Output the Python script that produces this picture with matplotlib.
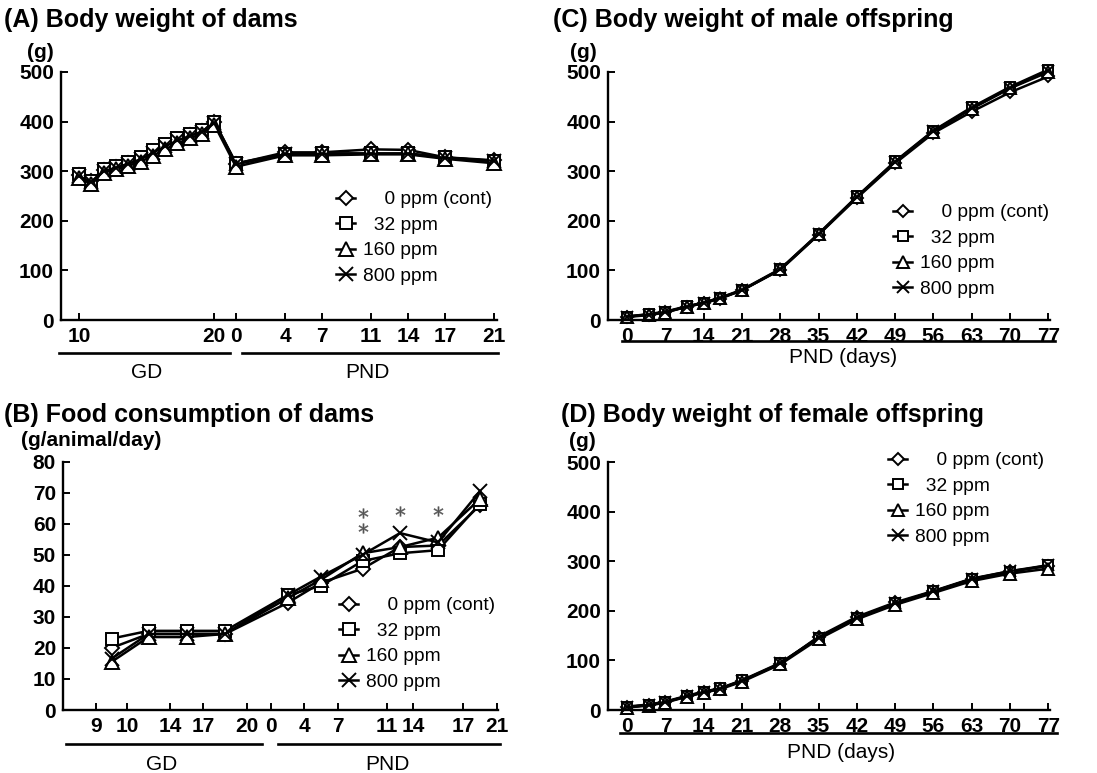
import matplotlib
matplotlib.use("Agg")
import matplotlib.pyplot as plt
from matplotlib.lines import Line2D

plt.rcParams['font.family'] = ['Liberation Sans', 'DejaVu Sans']

W, H = 1097, 773
fig = plt.figure(figsize=(W / 100, H / 100), dpi=100)

# ---------------- data ----------------
series_labels = ["    0 ppm (cont)", "  32 ppm", "160 ppm", "800 ppm"]

# (A) dam body weight: GD points (12 weighings from GD10 to GD20), PND days
a_gd_idx = list(range(12))
a_pnd_days = [0, 4, 7, 11, 14, 17, 21]
a_cont_gd = [292, 280, 302, 308, 316, 325, 338, 350, 363, 372, 382, 400]
a_32_gd = [295, 281, 304, 311, 318, 328, 342, 354, 366, 374, 384, 400]
a_160_gd = [287, 274, 297, 304, 311, 319, 331, 344, 356, 366, 376, 394]
a_800_gd = [290, 278, 300, 307, 315, 324, 337, 350, 362, 371, 380, 397]
a_cont_pnd = [315, 338, 338, 344, 343, 328, 322]
a_32_pnd = [316, 335, 336, 336, 336, 328, 320]
a_160_pnd = [309, 332, 332, 334, 334, 325, 316]
a_800_pnd = [314, 334, 335, 335, 335, 327, 321]
a_gd_ticklabels = ["10", "20"]
a_pnd_ticklabels = ["0", "4", "7", "11", "14", "17", "21"]

# (B) food consumption: intervals between labelled days
b_tick_labels = ["9", "10", "14", "17", "20", "0", "4", "7", "11", "14", "17", "21"]
b_intervals = [(0, 1), (1, 2), (2, 3), (3, 4), (5, 6), (6, 7), (7, 8), (8, 9), (9, 10), (10, 11)]
b_cont = [20, 24.5, 24.5, 24.5, 34.5, 41, 45.5, 52.5, 53, 66]
b_32 = [23, 25.5, 25.5, 25.5, 37, 40, 48, 50.5, 51.5, 66.5]
b_160 = [15.5, 23.5, 23.5, 24.5, 36, 42, 50.5, 52.5, 55.5, 68]
b_800 = [16.5, 24.5, 24.5, 24.5, 37, 43, 50, 57, 54, 70.5]
b_star_interval = [6, 6, 7, 8]
b_star_value = [58.5, 63.5, 64, 64]

# (C),(D) offspring body weight
off_days = [0, 4, 7, 11, 14, 17, 21, 28, 35, 42, 49, 56, 63, 70, 77]
c_cont = [7, 11, 16, 27, 34, 43, 60, 101, 172, 246, 316, 377, 420, 459, 491]
c_32 = [7, 12, 17, 28, 35, 45, 61, 103, 174, 249, 320, 382, 429, 470, 505]
c_160 = [6, 10, 15, 27, 34, 44, 60, 102, 173, 248, 318, 380, 426, 467, 500]
c_800 = [7, 11, 16, 27, 35, 44, 60, 102, 173, 248, 319, 381, 427, 468, 503]
d_cont = [6, 10, 16, 28, 36, 43, 59, 93, 148, 188, 217, 240, 265, 280, 290]
d_32 = [7, 11, 17, 29, 37, 44, 60, 95, 146, 186, 215, 239, 264, 278, 292]
d_160 = [5, 9, 15, 27, 35, 42, 57, 92, 143, 183, 212, 236, 260, 275, 285]
d_800 = [6, 10, 16, 28, 36, 43, 59, 94, 146, 186, 215, 239, 264, 280, 292]
off_ticks = [0, 7, 14, 21, 28, 35, 42, 49, 56, 63, 70, 77]

# ---------------- styles ----------------
markers = ['D', 's', '^', 'x']
msizes = [7.5, 9, 9.5, 10.5]


def style(i, ms_scale=1.0):
    return dict(color='black', lw=1.8, marker=markers[i], ms=msizes[i] * ms_scale,
                mfc='white', mec='black', mew=1.4, clip_on=False)


TICK_FS = 15
LEG_FS = 13.8
TITLE_FS = 18
LAB_FS = 15


def make_ax(l, r, top, bot):
    ax = fig.add_axes([l / W, 1 - bot / H, (r - l) / W, (bot - top) / H])
    ax.spines['top'].set_visible(False)
    ax.spines['right'].set_visible(False)
    for s in ('left', 'bottom'):
        ax.spines[s].set_linewidth(1.7)
    ax.tick_params(direction='in', length=5, width=1.4, labelsize=TICK_FS, pad=5)
    return ax


def boldify(ax):
    for lab in ax.get_xticklabels() + ax.get_yticklabels():
        lab.set_fontweight('bold')


def fig_text(x, y, s, **kw):
    fig.text(x / W, 1 - y / H, s, **kw)


def fig_line(x0, x1, y):
    fig.add_artist(Line2D([x0 / W, x1 / W], [1 - y / H, 1 - y / H], color='black', lw=1.9,
                          transform=fig.transFigure))


def add_legend(ax, handles, x, y):
    ax.legend(handles=handles, labels=series_labels, loc='upper left',
              bbox_to_anchor=(x / W, 1 - y / H), bbox_transform=fig.transFigure,
              frameon=False, fontsize=LEG_FS, handlelength=1.0, handletextpad=0.4,
              labelspacing=0.42, borderpad=0, borderaxespad=0)


# ---------------- (A) ----------------
axA = make_ax(61, 497, 72, 320)


def a_gd_pos(i):
    return 79 + 12.3 * i


def a_pnd_pos(d):
    return 236 + 12.29 * d


hA = []
for i, (g, p) in enumerate([(a_cont_gd, a_cont_pnd), (a_32_gd, a_32_pnd),
                             (a_160_gd, a_160_pnd), (a_800_gd, a_800_pnd)]):
    xs = [a_gd_pos(k) for k in a_gd_idx] + [a_pnd_pos(d) for d in a_pnd_days]
    h, = axA.plot(xs, g + p, **style(i))
    hA.append(h)
axA.set_xlim(61, 497)
axA.set_ylim(0, 500)
axA.set_yticks(range(0, 501, 100))
axA.set_xticks([a_gd_pos(a_gd_idx[0]), a_gd_pos(a_gd_idx[-1])] + [a_pnd_pos(d) for d in a_pnd_days])
axA.set_xticklabels(a_gd_ticklabels + a_pnd_ticklabels)
boldify(axA)
add_legend(axA, hA, 336, 191)

# ---------------- (B) ----------------
axB = make_ax(63, 498, 461.7, 710)
b_tick_pos = [96, 127, 170, 203, 247, 271, 304, 338, 387, 413, 463, 497]
b_x = [(b_tick_pos[a] + b_tick_pos[b]) / 2 for a, b in b_intervals]
hB = []
for i, vals in enumerate([b_cont, b_32, b_160, b_800]):
    h, = axB.plot(b_x, vals, **style(i))
    hB.append(h)
axB.plot([b_x[k] for k in b_star_interval], b_star_value, ls='none', marker='$*$',
         ms=7, color='#555555', mew=0.3)
axB.set_xlim(63, 498)
axB.set_ylim(0, 80)
axB.set_yticks(range(0, 81, 10))
axB.set_xticks(b_tick_pos)
axB.set_xticklabels(b_tick_labels)
boldify(axB)
add_legend(axB, hB, 339, 597)

# ---------------- (C) ----------------
axC = make_ax(608, 1050, 72, 320)
hC = []
for i, vals in enumerate([c_cont, c_32, c_160, c_800]):
    h, = axC.plot(off_days, vals, **style(i, 0.85))
    hC.append(h)
axC.set_xlim(-3.5, 77.3)
axC.set_ylim(0, 500)
axC.set_yticks(range(0, 501, 100))
axC.set_xticks(off_ticks)
boldify(axC)
add_legend(axC, hC, 893, 204)

# ---------------- (D) ----------------
axD = make_ax(608, 1050, 462, 710)
hD = []
for i, vals in enumerate([d_cont, d_32, d_160, d_800]):
    h, = axD.plot(off_days, vals, **style(i, 0.85))
    hD.append(h)
axD.set_xlim(-3.5, 77.3)
axD.set_ylim(0, 500)
axD.set_yticks(range(0, 501, 100))
axD.set_xticks(off_ticks)
boldify(axD)
add_legend(axD, hD, 888, 452)

# ---------------- titles, units, group labels ----------------
tkw = dict(fontsize=TITLE_FS, fontweight='bold', va='center', ha='left')
fig_text(4, 20, "(A) Body weight of dams", **tkw)
fig_text(4, 415, "(B) Food consumption of dams", **tkw)
fig_text(553, 20, "(C) Body weight of male offspring", **tkw)
fig_text(561, 415, "(D) Body weight of female offspring", **tkw)

ukw = dict(fontsize=LAB_FS, fontweight='bold', va='center', ha='center')
fig_text(40, 52, "(g)", **ukw)
fig_text(583, 52, "(g)", **ukw)
fig_text(582, 441, "(g)", **ukw)
fig_text(21, 440, "(g/animal/day)", fontsize=LAB_FS, fontweight='bold', va='center', ha='left')

gkw = dict(fontsize=LAB_FS, va='center', ha='center')
fig_line(59, 230, 353)
fig_line(242, 498, 353)
fig_text(147, 372, "GD", **gkw)
fig_text(367, 372, "PND", **gkw)

fig_line(66, 262, 744)
fig_line(278, 500, 744)
fig_text(162, 764, "GD", **gkw)
fig_text(387, 764, "PND", **gkw)

fig_line(622, 1055, 341)
fig_text(843, 358, "PND (days)", **gkw)
fig_line(620, 1057, 733)
fig_text(841, 752, "PND (days)", **gkw)

fig.savefig("out.png", dpi=100)
